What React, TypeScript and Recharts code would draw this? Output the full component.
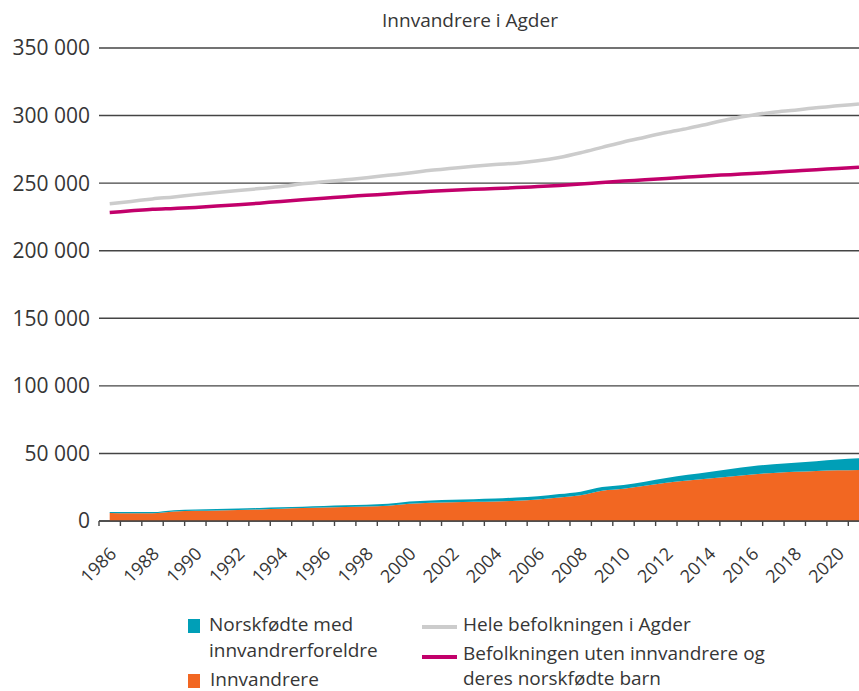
import { ComposedChart, Area, Line, XAxis, YAxis, CartesianGrid } from "recharts";

// befolkning per 1. januar
const years = [
  1986, 1987, 1988, 1989, 1990, 1991, 1992, 1993, 1994, 1995, 1996, 1997,
  1998, 1999, 2000, 2001, 2002, 2003, 2004, 2005, 2006, 2007, 2008, 2009,
  2010, 2011, 2012, 2013, 2014, 2015, 2016, 2017, 2018, 2019, 2020, 2021,
];
const innvandrere = [
  6000, 5800, 5700, 7000, 7500, 7800, 8200, 8600, 9100, 9600, 10000, 10400,
  10800, 11300, 12800, 13500, 13900, 14200, 14500, 15000, 16000, 17300, 19000, 22300,
  23800, 26000, 28300, 30000, 31500, 33000, 34500, 35600, 36400, 37000, 37500, 37800,
];
const norskfodte = [
  700, 800, 900, 1000, 1000, 1000, 1000, 1000, 1000, 1000, 1100, 1200,
  1300, 1400, 1600, 1700, 1800, 1900, 2100, 2400, 2300, 2600, 2700, 2800,
  2900, 3100, 3500, 4200, 4800, 5500, 6100, 6400, 6700, 7300, 8000, 8600,
];
const heleBefolkningen = [
  234800, 236500, 238300, 239800, 241500, 243000, 244500, 246000, 247500, 249500, 251000, 252500,
  254000, 255800, 257500, 259500, 261000, 262500, 263800, 264800, 266500, 269000, 272500, 276500,
  280500, 284000, 287500, 290500, 294000, 297500, 300300, 302500, 304000, 305800, 307200, 308600,
];
const utenInnvandrere = [
  228300, 229500, 230700, 231300, 232000, 233000, 234000, 235200, 236500, 237700, 238800, 240000,
  241000, 242000, 243000, 244000, 244800, 245500, 246000, 246700, 247500, 248300, 249300, 250500,
  251500, 252500, 253500, 254500, 255500, 256300, 257200, 258000, 259000, 260000, 260800, 261700,
];
const yTicks = [0, 50000, 100000, 150000, 200000, 250000, 300000, 350000];
const xTicks = Array.from({ length: 36 }, (_, i) => 1985 + i);

const data = years.map((y, i) => ({
  x: y - 0.5, // 1. januar = slutten av året før
  innvandrere: innvandrere[i],
  norskfodte: norskfodte[i],
  hele: heleBefolkningen[i],
  uten: utenInnvandrere[i],
}));

const FONT = "'Open Sans', sans-serif";
const TEXT = "#363636";
const fmt = (v: number) => String(v).replace(/\B(?=(\d{3})+(?!\d))/g, " ");

const XTick = (props: any) => {
  const { x, y, payload } = props;
  const v = payload.value;
  if (v < 1986 || v % 2 !== 0) return <g />;
  const ax = x - 3;
  const ay = y + 27;
  return (
    <text
      x={ax}
      y={ay}
      transform={`rotate(-45, ${ax}, ${ay})`}
      textAnchor="end"
      fill={TEXT}
      fontSize={18}
      fontFamily={FONT}
    >
      {v}
    </text>
  );
};

const legendText: React.CSSProperties = {
  position: "absolute",
  fontFamily: FONT,
  fontSize: 19,
  lineHeight: "26px",
  color: TEXT,
  whiteSpace: "nowrap",
};

export default function App() {
  return (
    <div style={{ position: "absolute", left: 0, top: 0, width: 859, height: 691, background: "#fff", overflow: "hidden" }}>
      <div
        style={{
          position: "absolute", left: 0, width: 940, top: 7, textAlign: "center",
          fontFamily: FONT, fontSize: 19, color: TEXT,
        }}
      >
        Innvandrere i Agder
      </div>
      <ComposedChart width={859} height={590} data={data} margin={{ top: 48, right: 0, bottom: 0, left: 0 }}>
        <CartesianGrid vertical={false} stroke="#444" strokeWidth={1.4} />
        <XAxis
          dataKey="x"
          type="number"
          domain={[1985, 2020.5]}
          ticks={xTicks}
          interval={0}
          height={69}
          tick={<XTick />}
          tickSize={5}
          tickLine={{ stroke: "#444", strokeWidth: 1.4 }}
          axisLine={{ stroke: "#444", strokeWidth: 1.4 }}
        />
        <YAxis
          domain={[0, 350000]}
          ticks={yTicks}
          width={99}
          tickFormatter={fmt}
          tickLine={false}
          axisLine={false}
          tickSize={0}
          tickMargin={9}
          tick={{ fill: TEXT, fontSize: 21, fontFamily: FONT }}
        />
        <Area type="monotone" dataKey="innvandrere" stackId="a" fill="#f26722" fillOpacity={1} stroke="none" isAnimationActive={false} />
        <Area type="monotone" dataKey="norskfodte" stackId="a" fill="#009fb7" fillOpacity={1} stroke="none" isAnimationActive={false} />
        <Line type="monotone" dataKey="hele" stroke="#cccccc" strokeWidth={3.5} dot={false} isAnimationActive={false} />
        <Line type="monotone" dataKey="uten" stroke="#c2006b" strokeWidth={3.5} dot={false} isAnimationActive={false} />
      </ComposedChart>

      <div style={{ position: "absolute", left: 188, top: 619, width: 12, height: 14, background: "#009fb7" }} />
      <div style={{ ...legendText, left: 209, top: 611 }}>
        Norskfødte med<br />innvandrerforeldre
      </div>
      <div style={{ position: "absolute", left: 188, top: 674, width: 12, height: 14, background: "#f26722" }} />
      <div style={{ ...legendText, left: 210, top: 668, lineHeight: "23px" }}>Innvandrere</div>

      <div style={{ position: "absolute", left: 422, top: 625, width: 35, height: 4, background: "#cccccc" }} />
      <div style={{ ...legendText, left: 463, top: 611 }}>Hele befolkningen i Agder</div>
      <div style={{ position: "absolute", left: 422, top: 655, width: 35, height: 4, background: "#c2006b" }} />
      <div style={{ ...legendText, left: 463, top: 641, lineHeight: "25px" }}>
        Befolkningen uten innvandrere og<br />deres norskfødte barn
      </div>
    </div>
  );
}
